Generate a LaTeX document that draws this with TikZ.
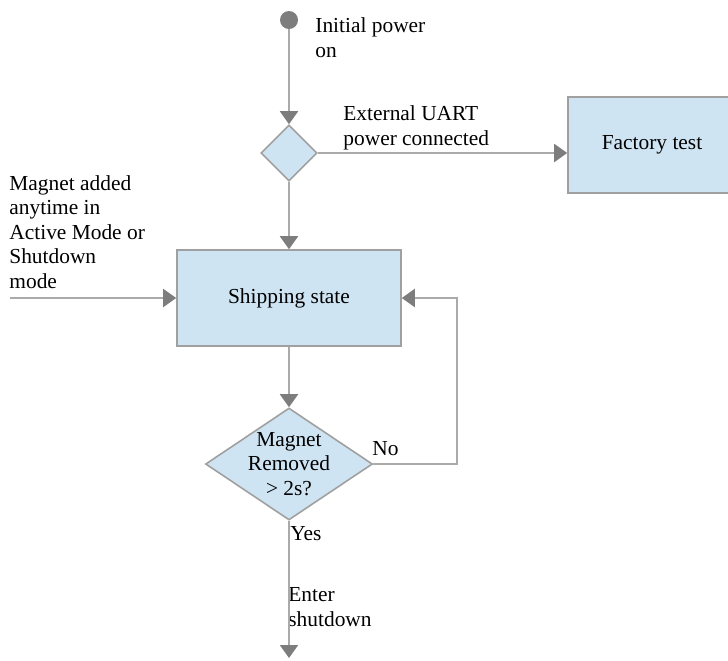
\documentclass[tikz,border=0pt]{standalone}
\usepackage{fontspec}
\setmainfont{Liberation Serif}
\definecolor{boxblue}{RGB}{207, 228, 243}
\definecolor{edgegray}{RGB}{160, 160, 160}
\definecolor{linegray}{RGB}{170, 170, 170}
\definecolor{tipgray}{RGB}{125, 125, 125}
\usetikzlibrary{shapes.geometric, arrows.meta, positioning}

\begin{document}
\begin{tikzpicture}[x=0.5pt, y=-0.5pt,
  every node/.style={font=\fontsize{10.7}{12.25}\selectfont},
  statebox/.style={draw=edgegray, fill=boxblue, line width=0.8pt, minimum height=48pt, inner sep=0pt},
  decision/.style={diamond, draw=edgegray, fill=boxblue, line width=0.8pt, inner sep=0pt},
  note/.style={align=left, anchor=base west, inner sep=0pt},
  flow/.style={draw=linegray, line width=1pt, -{Triangle[length=6.5pt, width=9pt, color=tipgray]}}]
  \clip (0,0) rectangle (728,660);

  % Start and first check
  \node[circle, fill=tipgray, minimum size=9pt, inner sep=0pt] (start) at (289,20) {};
  \node[note] (powerlbl) at (315,57) {Initial power\\on};
  \node[decision, minimum width=28pt, minimum height=28pt] (uart) at (289,153) {};
  \node[note] (uartlbl) at (343,145) {External UART\\power connected};

  % States
  \node[statebox, minimum width=84pt] (factory) at (652,145) {Factory test};
  \node[statebox, minimum width=112pt] (ship) at (289,298) {Shipping state};
  \node[note] (magnetlbl) at (9,288) {Magnet added\\anytime in\\Active Mode or\\Shutdown\\mode};

  % Magnet check
  \node[decision, minimum width=83.5pt, minimum height=56pt,
        label={[align=center]center:{Magnet\\Removed\\> 2s?}}] (chk) at (289,464) {};
  \node[note] (nolbl) at (372,455) {No};
  \node[note] (yeslbl) at (290,540) {Yes};
  \node[note] (shutlbl) at (288,626) {Enter\\shutdown};

  \coordinate (magin) at (10,298);
  \coordinate (loop) at (457,464);
  \coordinate (stop) at (289,658);

  % Connectors
  \draw[flow] (start) -- (uart);
  \draw[flow] (uart.east) -- (uart.east -| factory.west);
  \draw[flow] (uart) -- (ship);
  \draw[flow] (magin) -- (ship.west);
  \draw[flow] (ship) -- (chk);
  \draw[flow] (chk.east) -- (loop) |- (ship.east);
  \draw[flow] (chk) -- (stop);
\end{tikzpicture}
\end{document}
